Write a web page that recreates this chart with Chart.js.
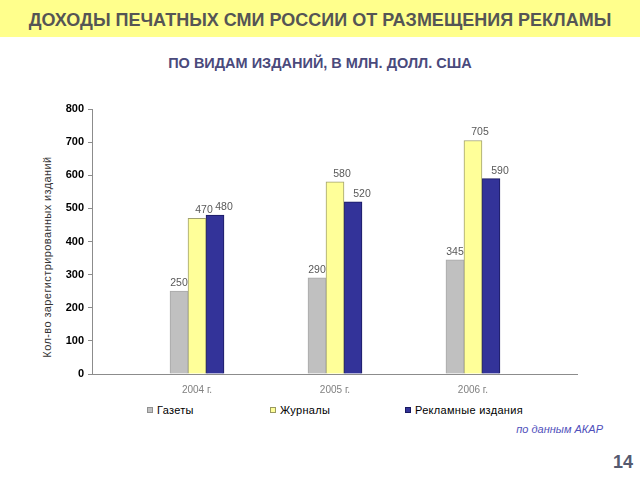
<!DOCTYPE html>
<html>
<head>
<meta charset="utf-8">
<script src="https://cdn.jsdelivr.net/npm/chart.js@4/dist/chart.umd.min.js"></script>
<style>
  html, body { margin:0; padding:0; width:640px; height:480px; background:#fff; overflow:hidden; font-family:"Liberation Sans", Arial, sans-serif; }
  .banner { position:absolute; left:0; top:0; width:640px; height:37px; background:#ffff8c; }
  .title { position:absolute; left:0; width:640px; top:9px; text-align:center; font-weight:bold; font-size:18px; line-height:22px; color:#555555; }
  .subtitle { position:absolute; left:0; width:640px; top:54px; text-align:center; font-weight:bold; font-size:14.5px; line-height:18px; color:#4a4a7c; }
  .ytitle { position:absolute; left:47px; top:257px; transform:translate(-50%,-50%) rotate(-90deg); white-space:nowrap; font-size:11px; color:#333; letter-spacing:0.4px; }
  #wrap { position:absolute; left:0; top:80px; width:640px; height:320px; }
  .legend-item { position:absolute; top:404px; font-size:11px; color:#000; white-space:nowrap; letter-spacing:0.3px; }
  .legend-item i { display:inline-block; width:6px; height:6px; margin-right:4px; vertical-align:1px; box-sizing:border-box; }
  .source { position:absolute; right:37px; top:423px; font-size:11px; font-style:italic; color:#5050bb; }
  .page { position:absolute; right:7px; top:452px; font-size:18px; font-weight:bold; color:#555a70; }
</style>
</head>
<body>
<div class="banner"></div>
<div class="title">ДОХОДЫ ПЕЧАТНЫХ СМИ РОССИИ ОТ РАЗМЕЩЕНИЯ РЕКЛАМЫ</div>
<div class="subtitle">ПО ВИДАМ ИЗДАНИЙ, В МЛН. ДОЛЛ. США</div>
<div class="ytitle">Кол-во зарегистрированных изданий</div>
<div id="wrap"><canvas id="chart" width="640" height="320"></canvas></div>
<div id="legend"></div>
<div class="source">по данным АКАР</div>
<div class="page">14</div>
<script>
// chart data
const years = ["2004 г.", "2005 г.", "2006 г."];
const seriesNames = ["Газеты", "Журналы", "Рекламные издания"];
const newspapers = [250, 290, 345];
const magazines = [470, 580, 705];
const adEditions = [480, 520, 590];
const yTicks = [0, 100, 200, 300, 400, 500, 600, 700, 800];

const fills = ['#c0c0c0', '#ffff99', '#333399'];
const edges = ['#a8a8a8', '#a0a070', '#1a1a60'];
const labelNudge = [0, 7, 9];

function points(values) {
  return values.map((v, i) => ({ x: i, y: v }));
}

// value labels above bars
const valueLabels = {
  id: 'valueLabels',
  afterDatasetsDraw(chart) {
    const ctx = chart.ctx;
    ctx.save();
    ctx.font = '10.5px "Liberation Sans", Arial, sans-serif';
    ctx.fillStyle = '#595959';
    ctx.textAlign = 'center';
    ctx.textBaseline = 'alphabetic';
    chart.data.datasets.forEach((ds, di) => {
      chart.getDatasetMeta(di).data.forEach((bar, i) => {
        ctx.fillText(ds.data[i].y, bar.x + labelNudge[di], bar.y - 5);
      });
    });
    ctx.restore();
  }
};

new Chart(document.getElementById('chart'), {
  type: 'bar',
  data: {
    datasets: [
      { label: seriesNames[0], data: points(newspapers), backgroundColor: fills[0], borderColor: edges[0], borderWidth: 1 },
      { label: seriesNames[1], data: points(magazines), backgroundColor: fills[1], borderColor: edges[1], borderWidth: 1 },
      { label: seriesNames[2], data: points(adEditions), backgroundColor: fills[2], borderColor: edges[2], borderWidth: 1 }
    ]
  },
  options: {
    responsive: false,
    animation: false,
    layout: { padding: { top: 29, right: 63, left: 0, bottom: 0 } },
    barThickness: 18,
    plugins: { legend: { display: false }, tooltip: { enabled: false } },
    scales: {
      x: {
        type: 'linear',
        offset: false,
        min: -0.761,
        max: 2.754,
        afterFit: s => { s.height = 26; },
        grid: { display: false, drawTicks: false },
        border: { display: true, color: '#8c8c8c', width: 1 },
        ticks: {
          stepSize: 1,
          includeBounds: false,
          autoSkip: false,
          maxRotation: 0,
          padding: 10,
          color: '#808080',
          font: { size: 10, family: '"Liberation Sans", Arial, sans-serif' },
          callback: v => (Number.isInteger(v) && years[v]) ? years[v] : ''
        }
      },
      y: {
        min: 0,
        max: 800,
        afterFit: s => { s.width = 92; },
        afterBuildTicks: s => { s.ticks = yTicks.map(v => ({ value: v })); },
        grid: { display: true, drawOnChartArea: false, drawTicks: true, tickLength: 4, color: '#8c8c8c' },
        border: { display: true, color: '#8c8c8c', width: 1 },
        ticks: {
          padding: 4,
          color: '#000',
          font: { size: 11, weight: 'bold', family: '"Liberation Sans", Arial, sans-serif' }
        }
      }
    }
  },
  plugins: [valueLabels]
});

// legend built from the series names
const legendLeft = [147, 270, 405];
const legendBorder = ['#909090', '#9a9a60', '#1a1a60'];
const legend = document.getElementById('legend');
seriesNames.forEach((name, i) => {
  const item = document.createElement('div');
  item.className = 'legend-item';
  item.style.left = legendLeft[i] + 'px';
  item.innerHTML = `<i style="background:${fills[i]};border:1px solid ${legendBorder[i]}"></i>${name}`;
  legend.appendChild(item);
});
</script>
</body>
</html>
